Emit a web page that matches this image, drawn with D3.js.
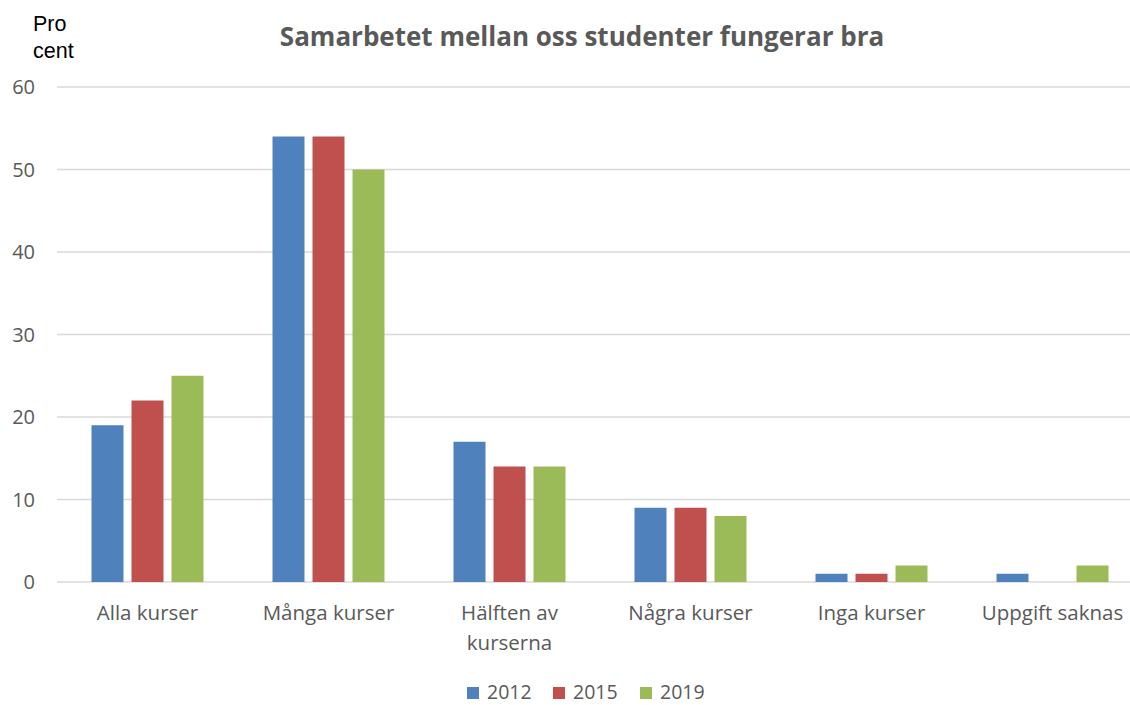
<!DOCTYPE html>
<html>
<head>
<meta charset="utf-8">
<script src="https://cdn.jsdelivr.net/npm/d3@7"></script>
<style>
  body { margin: 0; background: #fff; }
  svg { display: block; }
</style>
</head>
<body>
<svg id="chart" width="1130" height="705"></svg>
<script>
const categories = ["Alla kurser", "Många kurser", "Hälften av kurserna", "Några kurser", "Inga kurser", "Uppgift saknas"];
const catLines = [["Alla kurser"], ["Många kurser"], ["Hälften av", "kurserna"], ["Några kurser"], ["Inga kurser"], ["Uppgift saknas"]];
const years = ["2012", "2015", "2019"];
const values2012 = [19, 54, 17, 9, 1, 1];
const values2015 = [22, 54, 14, 9, 1, 0];
const values2019 = [25, 50, 14, 8, 2, 2];
const yTicks = [0, 10, 20, 30, 40, 50, 60];
const colors = ["#4f81bd", "#c0504d", "#9bbb59"];

const series = [values2012, values2015, values2019];
const FONT = "'Open Sans', sans-serif";
const GREY = "#595959";

const svg = d3.select("#chart");

const x0 = d3.scaleBand()
  .domain(categories)
  .range([57, 57 + 6 * 181])
  .paddingInner(0.337)
  .paddingOuter(0.1685);

const x1 = d3.scaleBand()
  .domain(years)
  .range([0, x0.bandwidth()])
  .paddingInner(0.2)
  .paddingOuter(0.1);

const y = d3.scaleLinear().domain([0, 60]).range([582, 87]);

// gridlines
svg.append("g")
  .selectAll("line")
  .data(yTicks)
  .join("line")
  .attr("x1", 57)
  .attr("x2", 1130)
  .attr("y1", d => y(d))
  .attr("y2", d => y(d))
  .attr("stroke", "#d9d9d9")
  .attr("stroke-width", 1.5);

// y tick labels
svg.append("g")
  .selectAll("text")
  .data(yTicks)
  .join("text")
  .attr("x", 35)
  .attr("y", d => y(d))
  .attr("dy", "0.36em")
  .attr("text-anchor", "end")
  .style("font-family", FONT)
  .style("font-size", "20px")
  .style("fill", GREY)
  .text(d => d);

// bars
const groups = svg.append("g")
  .selectAll("g")
  .data(categories)
  .join("g")
  .attr("transform", d => `translate(${x0(d)},0)`);

groups.selectAll("rect")
  .data((c, i) => years.map((yr, j) => ({ yr, v: series[j][i], j })))
  .join("rect")
  .filter(d => d.v > 0)
  .attr("x", d => x1(d.yr))
  .attr("width", x1.bandwidth())
  .attr("y", d => y(d.v))
  .attr("height", d => y(0) - y(d.v))
  .attr("fill", d => colors[d.j]);

// x labels
const xl = svg.append("g")
  .selectAll("text")
  .data(categories)
  .join("text")
  .attr("x", d => x0(d) + x0.bandwidth() / 2)
  .attr("y", 620)
  .attr("text-anchor", "middle")
  .style("font-family", FONT)
  .style("font-size", "20.5px")
  .style("fill", GREY);

xl.selectAll("tspan")
  .data((d, i) => catLines[i])
  .join("tspan")
  .attr("x", function () { return d3.select(this.parentNode).attr("x"); })
  .attr("dy", (d, i) => i === 0 ? 0 : 30)
  .text(d => d);

// title
svg.append("text")
  .attr("x", 582)
  .attr("y", 46)
  .attr("text-anchor", "middle")
  .style("font-family", FONT)
  .style("font-size", "26px")
  .style("font-weight", "bold")
  .style("fill", GREY)
  .text("Samarbetet mellan oss studenter fungerar bra");

// y axis unit label
const unit = svg.append("text")
  .style("font-family", "'Liberation Sans', Arial, sans-serif")
  .style("font-size", "21.5px")
  .style("fill", "#000");
unit.append("tspan").attr("x", 33).attr("y", 31).text("Pro");
unit.append("tspan").attr("x", 33).attr("y", 58).text("cent");

// legend
const legendX = [467, 553, 640];
const lg = svg.append("g")
  .selectAll("g")
  .data(years)
  .join("g")
  .attr("transform", (d, i) => `translate(${legendX[i]},687)`);

lg.append("rect")
  .attr("width", 12)
  .attr("height", 12)
  .attr("fill", (d, i) => colors[i]);

lg.append("text")
  .attr("x", 20)
  .attr("y", 12)
  .style("font-family", FONT)
  .style("font-size", "19.5px")
  .style("fill", GREY)
  .text(d => d);
</script>
</body>
</html>
